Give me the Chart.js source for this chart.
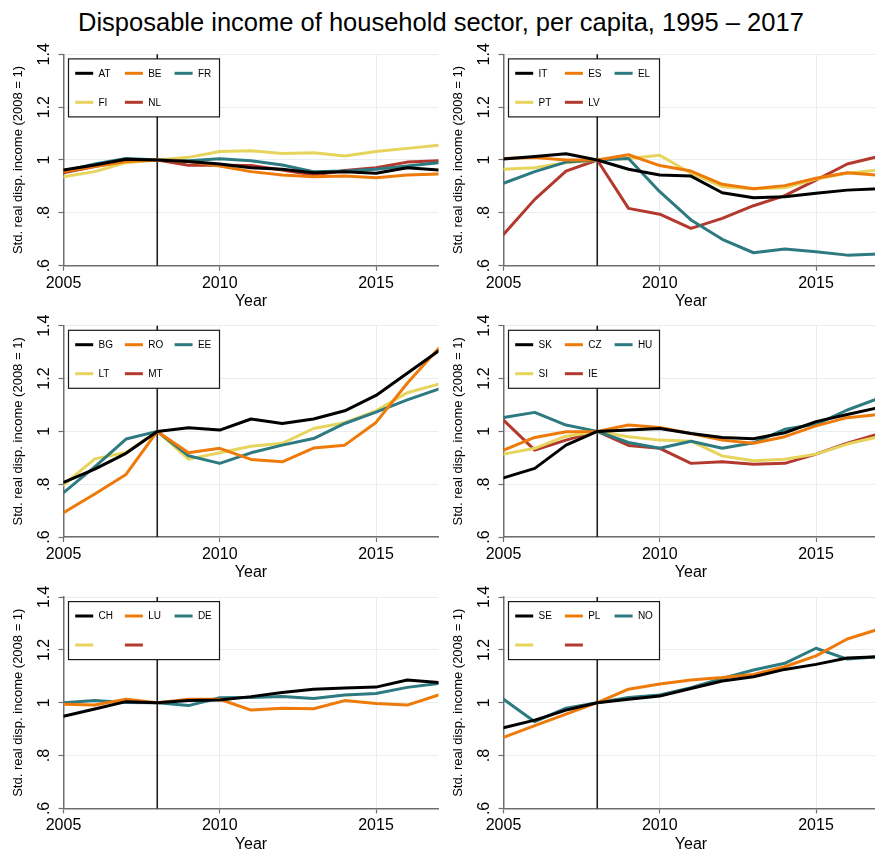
<!DOCTYPE html>
<html>
<head>
<meta charset="utf-8">
<script src="https://cdn.jsdelivr.net/npm/chart.js@4.4.1/dist/chart.umd.min.js"></script>
<style>
  html, body { margin: 0; padding: 0; background: #fff; }
  #page { position: relative; width: 875px; height: 852px; overflow: hidden; background: #fff;
          font-family: 'Liberation Sans', Arial, sans-serif; }
  #title { position: absolute; left: 78px; top: 10px; font-size: 25.5px; line-height: 1;
           color: #000; white-space: nowrap; }
  .panel { position: absolute; width: 440px; height: 272px; }
  .panel canvas { display: block; }
</style>
</head>
<body>
<div id="page">
  <div id="title">Disposable income of household sector, per capita, 1995 – 2017</div>
  <div class="panel" style="left:0;top:40px"><canvas id="p0" width="440" height="272"></canvas></div>
  <div class="panel" style="left:440px;top:40px"><canvas id="p1" width="440" height="272"></canvas></div>
  <div class="panel" style="left:0;top:311px"><canvas id="p2" width="440" height="272"></canvas></div>
  <div class="panel" style="left:440px;top:311px"><canvas id="p3" width="440" height="272"></canvas></div>
  <div class="panel" style="left:0;top:583px"><canvas id="p4" width="440" height="272"></canvas></div>
  <div class="panel" style="left:440px;top:583px"><canvas id="p5" width="440" height="272"></canvas></div>
</div>
<script>
// Years and standardised real disposable income per capita (2008 = 1)
const years = [2005, 2006, 2007, 2008, 2009, 2010, 2011, 2012, 2013, 2014, 2015, 2016, 2017];

const AT = [0.962, 0.981, 1.003, 1.0, 0.994, 0.985, 0.971, 0.965, 0.952, 0.956, 0.950, 0.971, 0.962];
const BE = [0.956, 0.975, 0.994, 1.0, 0.994, 0.977, 0.956, 0.943, 0.937, 0.939, 0.933, 0.943, 0.947];
const FR = [0.958, 0.985, 1.006, 1.0, 0.997, 1.005, 0.997, 0.981, 0.956, 0.958, 0.965, 0.977, 0.990];
const FI = [0.937, 0.956, 0.990, 1.0, 1.010, 1.032, 1.035, 1.025, 1.027, 1.015, 1.032, 1.044, 1.056];
const NL = [0.952, 0.975, 0.996, 1.0, 0.980, 0.980, 0.979, 0.962, 0.943, 0.960, 0.971, 0.992, 0.997];

const IT = [1.004, 1.013, 1.024, 1.0, 0.965, 0.943, 0.939, 0.876, 0.857, 0.861, 0.874, 0.886, 0.891];
const ES = [1.006, 1.009, 1.000, 1.0, 1.020, 0.979, 0.958, 0.908, 0.891, 0.903, 0.931, 0.952, 0.942];
const EL = [0.912, 0.956, 0.992, 1.0, 1.006, 0.880, 0.773, 0.700, 0.649, 0.663, 0.653, 0.640, 0.644];
const PT = [0.965, 0.971, 0.990, 1.0, 1.006, 1.018, 0.950, 0.899, 0.891, 0.895, 0.928, 0.950, 0.962];
const LV = [0.718, 0.851, 0.958, 1.0, 0.817, 0.795, 0.741, 0.779, 0.827, 0.865, 0.924, 0.985, 1.013];

const BG = [0.807, 0.857, 0.917, 1.0, 1.014, 1.005, 1.047, 1.030, 1.047, 1.078, 1.136, 1.220, 1.304];
const RO = [0.692, 0.763, 0.837, 1.0, 0.919, 0.936, 0.894, 0.885, 0.937, 0.948, 1.034, 1.182, 1.314];
const EE = [0.768, 0.866, 0.971, 1.0, 0.908, 0.879, 0.919, 0.948, 0.973, 1.030, 1.073, 1.119, 1.160];
const LT = [0.797, 0.896, 0.920, 1.0, 0.895, 0.919, 0.944, 0.955, 1.011, 1.033, 1.078, 1.146, 1.179];
const MT = [];

const SK = [0.824, 0.860, 0.948, 1.0, 1.005, 1.011, 0.992, 0.977, 0.972, 0.995, 1.037, 1.064, 1.090];
const CZ = [0.929, 0.977, 0.999, 1.0, 1.024, 1.015, 0.992, 0.967, 0.955, 0.980, 1.021, 1.052, 1.064];
const HU = [1.053, 1.072, 1.024, 1.0, 0.958, 0.936, 0.963, 0.936, 0.957, 1.008, 1.027, 1.081, 1.125];
const SI = [0.914, 0.936, 0.982, 1.0, 0.980, 0.967, 0.963, 0.907, 0.889, 0.895, 0.914, 0.952, 0.980];
const IE = [1.043, 0.929, 0.967, 1.0, 0.947, 0.936, 0.879, 0.885, 0.876, 0.879, 0.914, 0.955, 0.990];

const CH = [0.949, 0.976, 1.004, 1.0, 1.008, 1.010, 1.023, 1.039, 1.051, 1.056, 1.059, 1.086, 1.076];
const LU = [0.994, 0.991, 1.013, 1.0, 1.013, 1.013, 0.972, 0.979, 0.977, 1.008, 0.997, 0.991, 1.029];
const DE = [1.000, 1.008, 1.001, 1.0, 0.989, 1.019, 1.020, 1.023, 1.016, 1.029, 1.035, 1.058, 1.073];

const SE = [0.905, 0.934, 0.972, 1.0, 1.013, 1.025, 1.054, 1.082, 1.098, 1.126, 1.145, 1.169, 1.174];
const PL = [0.869, 0.913, 0.957, 1.0, 1.051, 1.071, 1.086, 1.095, 1.107, 1.136, 1.177, 1.241, 1.278];
const NO = [1.013, 0.928, 0.979, 1.0, 1.020, 1.029, 1.057, 1.092, 1.124, 1.149, 1.206, 1.165, 1.174];

const NONE = [];

// Country groups, one per panel (empty labels keep the legend slots)
const panelLabels = [
  ['AT', 'BE', 'FR', 'FI', 'NL'],
  ['IT', 'ES', 'EL', 'PT', 'LV'],
  ['BG', 'RO', 'EE', 'LT', 'MT'],
  ['SK', 'CZ', 'HU', 'SI', 'IE'],
  ['CH', 'LU', 'DE', '', ''],
  ['SE', 'PL', 'NO', '', '']
];
const panelSeries = [
  [AT, BE, FR, FI, NL],
  [IT, ES, EL, PT, LV],
  [BG, RO, EE, LT, MT],
  [SK, CZ, HU, SI, IE],
  [CH, LU, DE, NONE, NONE],
  [SE, PL, NO, NONE, NONE]
];

const xTicks = [2005, 2010, 2015];
const yTicks = [0.6, 0.8, 1, 1.2, 1.4];
const yTickLabels = ['.6', '.8', '1', '1.2', '1.4'];
const baseYear = 2008;

const seriesColors = ['#000000', '#EE7A0A', '#2D7A80', '#E6D45C', '#B3392F'];
const gridColor = '#e8eeef';
const axisColor = '#6e6e6e';

Chart.defaults.font.family = "'Liberation Sans', Arial, sans-serif";
Chart.defaults.color = '#000';

// Vertical reference line at the base year
const baseLinePlugin = {
  id: 'baseLine',
  beforeDatasetsDraw(chart) {
    const { ctx, chartArea } = chart;
    const x = chart.scales.x.getPixelForValue(baseYear);
    ctx.save();
    ctx.strokeStyle = '#1e1e1e';
    ctx.lineWidth = 1.6;
    ctx.beginPath();
    ctx.moveTo(x, chartArea.top);
    ctx.lineTo(x, chartArea.bottom);
    ctx.stroke();
    ctx.restore();
  }
};

// Boxed legend: three columns, two rows, drawn inside the plot
const boxLegendPlugin = {
  id: 'boxLegend',
  afterDatasetsDraw(chart) {
    const { ctx, chartArea } = chart;
    const bx = chartArea.left + 5;
    const by = chartArea.top + 4.6;
    const bw = 151;
    const bh = 58;
    ctx.save();
    ctx.fillStyle = '#ffffff';
    ctx.fillRect(bx, by, bw, bh);
    ctx.strokeStyle = '#1a1a1a';
    ctx.lineWidth = 1.2;
    ctx.strokeRect(bx, by, bw, bh);
    ctx.font = "10px 'Liberation Sans', Arial, sans-serif";
    ctx.textBaseline = 'middle';
    ctx.textAlign = 'left';
    chart.data.datasets.forEach((ds, i) => {
      const col = i % 3;
      const row = Math.floor(i / 3);
      const lx = chartArea.left + 11.7 + col * 49.7;
      const ly = chartArea.top + 19 + row * 29;
      ctx.strokeStyle = ds.borderColor;
      ctx.lineWidth = 3;
      ctx.beginPath();
      ctx.moveTo(lx, ly);
      ctx.lineTo(lx + 18, ly);
      ctx.stroke();
      ctx.fillStyle = '#000';
      ctx.fillText(ds.label, lx + 23.3, ly + 0.5);
    });
    ctx.restore();
  }
};

function makePanel(idx, padTop) {
  const labels = panelLabels[idx];
  const series = panelSeries[idx];
  new Chart(document.getElementById('p' + idx), {
    type: 'line',
    data: {
      datasets: labels.map((lab, i) => ({
        label: lab,
        data: series[i].map((v, k) => ({ x: years[k], y: v })),
        borderColor: seriesColors[i],
        backgroundColor: seriesColors[i],
        borderWidth: 3,
        pointRadius: 0,
        tension: 0,
        fill: false,
        borderJoinStyle: 'round',
        borderCapStyle: 'round'
      }))
    },
    options: {
      responsive: false,
      animation: false,
      events: [],
      layout: { padding: { left: 0, right: 1.5, top: padTop, bottom: 0 } },
      plugins: {
        legend: { display: false },
        title: { display: false },
        tooltip: { enabled: false }
      },
      scales: {
        x: {
          type: 'linear',
          min: 2005,
          max: 2017,
          afterBuildTicks: s => { s.ticks = xTicks.map(v => ({ value: v })); },
          afterFit: s => { s.height = 272 - padTop - 211.4; },
          grid: { color: gridColor, lineWidth: 1, drawTicks: true, tickLength: 5, tickColor: axisColor, tickWidth: 1.2 },
          border: { color: axisColor, width: 1.5 },
          ticks: {
            font: { size: 16 }, color: '#000', padding: 3,
            maxRotation: 0, autoSkip: false,
            callback: v => String(v)
          },
          title: { display: true, text: 'Year', font: { size: 16 }, color: '#000', padding: { top: 0, bottom: 1 } }
        },
        y: {
          min: 0.6,
          max: 1.4,
          afterBuildTicks: s => { s.ticks = yTicks.map(v => ({ value: v })); },
          afterFit: s => { s.width = 63.5; },
          grid: { color: gridColor, lineWidth: 1, drawTicks: true, tickLength: 5, tickColor: axisColor, tickWidth: 1.2 },
          border: { color: axisColor, width: 1.5 },
          ticks: {
            font: { size: 16 }, color: '#000', padding: 3,
            minRotation: 90, maxRotation: 90, crossAlign: 'center',
            callback: (v, i) => yTickLabels[i]
          },
          title: {
            display: true, text: 'Std. real disp. income (2008 = 1)',
            font: { size: 13 }, color: '#000', padding: { top: 10.5, bottom: 0 }
          }
        }
      }
    },
    plugins: [baseLinePlugin, boxLegendPlugin]
  });
}

const rowPadTop = [14.3, 14.7, 14.0];
for (let i = 0; i < 6; i++) {
  makePanel(i, rowPadTop[Math.floor(i / 2)]);
}
</script>
</body>
</html>
